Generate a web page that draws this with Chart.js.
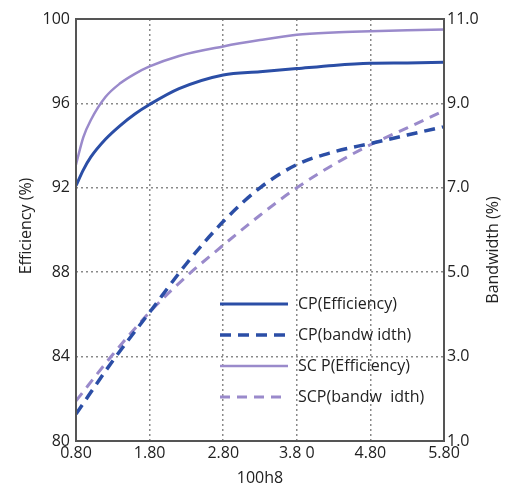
<!DOCTYPE html>
<html>
<head>
<meta charset="utf-8">
<script src="https://cdn.jsdelivr.net/npm/chart.js@4"></script>
<style>
  html, body { margin: 0; padding: 0; background: #fff; }
  #wrap { width: 512px; height: 489px; }
</style>
</head>
<body>
<div id="wrap"><canvas id="effChart" width="512" height="489"></canvas></div>
<script>
// x positions (100h8) for the efficiency curves
const effX = [0.8, 0.9, 1.0, 1.2, 1.4, 1.6, 1.8, 2.2, 2.8, 3.3, 3.8, 4.3, 4.8, 5.3, 5.8];
const cpEff = [92.1, 92.85, 93.45, 94.3, 94.95, 95.5, 95.95, 96.7, 97.35, 97.5, 97.65, 97.8, 97.9, 97.92, 97.95];
const scpEff = [93.1, 94.4, 95.2, 96.3, 96.95, 97.4, 97.75, 98.25, 98.7, 99.0, 99.25, 99.36, 99.42, 99.47, 99.5];

// x positions for the bandwidth curves
const bwX = [0.8, 1.3, 1.8, 2.3, 2.8, 3.3, 3.8, 4.3, 4.8, 5.3, 5.8];
const cpBw = [1.64, 2.9, 4.05, 5.2, 6.2, 7.0, 7.55, 7.85, 8.05, 8.25, 8.45];
const scpBw = [1.95, 3.05, 4.05, 4.9, 5.64, 6.35, 7.0, 7.55, 8.02, 8.42, 8.83];

// tick values and labels
const xTicks = [0.8, 1.8, 2.8, 3.8, 4.8, 5.8];
const xTickLabels = ['0.80', '1.80', '2.80', '3.8 0', '4.80', '5.80'];
const effTicks = [80, 84, 88, 92, 96, 100];
const bwTicks = [1, 3, 5, 7, 9, 11];

const legendLabels = ['CP(Efficiency)', 'CP(bandw idth)', 'SC P(Efficiency)', 'SCP(bandw  idth)'];

const BLUE = '#2b4ea6';
const LAV = '#9a8acb';
const FONT = '"Open Sans", "Noto Sans", sans-serif';

function toPoints(xs, ys) {
    return xs.map((x, i) => ({ x: x, y: ys[i] }));
}

// frame, axis titles and in-plot legend
const decorPlugin = {
    id: 'decor',
    afterDraw(chart) {
        const c = chart.ctx;
        const a = chart.chartArea;
        c.save();

        // frame
        c.strokeStyle = '#555';
        c.lineWidth = 2;
        c.setLineDash([]);
        c.strokeRect(a.left, a.top, a.right - a.left, a.bottom - a.top);

        // axis titles
        c.fillStyle = '#222';
        c.font = '500 16px ' + FONT;
        c.textAlign = 'center';
        c.textBaseline = 'middle';
        c.fillText('100h8', (a.left + a.right) / 2, 478);

        c.save();
        c.translate(26, (a.top + a.bottom) / 2 - 4);
        c.rotate(-Math.PI / 2);
        c.fillText('Efficiency (%)', 0, 0);
        c.restore();

        c.save();
        c.translate(493, (a.top + a.bottom) / 2 + 20);
        c.rotate(-Math.PI / 2);
        c.fillText('Bandwidth (%)', 0, 0);
        c.restore();

        // legend
        const x0 = 220, x1 = 288, tx = 298;
        const rows = [304, 335, 366, 397];
        c.textAlign = 'left';
        chart.data.datasets.forEach((ds, i) => {
            const y = rows[i];
            c.strokeStyle = ds.borderColor;
            c.lineWidth = ds.borderWidth;
            c.setLineDash(ds.borderDash || []);
            c.beginPath();
            c.moveTo(x0, y);
            c.lineTo(x1, y);
            c.stroke();
            c.fillStyle = '#222';
            c.fillText(legendLabels[i], tx, y);
        });
        c.restore();
    }
};

const ctx = document.getElementById('effChart').getContext('2d');
const tickFont = { family: FONT, size: 16, weight: '500' };

const chart = new Chart(ctx, {
    type: 'line',
    data: {
        datasets: [{
            data: toPoints(effX, cpEff),
            borderColor: BLUE,
            borderWidth: 3,
            yAxisID: 'yEff'
        }, {
            data: toPoints(bwX, cpBw),
            borderColor: BLUE,
            borderWidth: 3.5,
            borderDash: [11, 7],
            yAxisID: 'yBw'
        }, {
            data: toPoints(effX, scpEff),
            borderColor: LAV,
            borderWidth: 2.5,
            yAxisID: 'yEff'
        }, {
            data: toPoints(bwX, scpBw),
            borderColor: LAV,
            borderWidth: 3,
            borderDash: [10, 7],
            yAxisID: 'yBw'
        }]
    },
    options: {
        responsive: false,
        animation: false,
        layout: { padding: { top: 19, left: 0, right: 0, bottom: 0 } },
        elements: {
            point: { radius: 0 },
            line: { cubicInterpolationMode: 'monotone', fill: false }
        },
        plugins: {
            legend: { display: false },
            tooltip: { enabled: false }
        },
        scales: {
            x: {
                type: 'linear',
                min: 0.8,
                max: 5.8,
                afterBuildTicks: (s) => { s.ticks = xTicks.map(v => ({ value: v })); },
                afterFit: (s) => { s.height = 48; },
                ticks: {
                    padding: 3,
                    color: '#222',
                    font: tickFont,
                    maxRotation: 0,
                    callback: (v, i) => xTickLabels[i]
                },
                grid: {
                    drawTicks: false,
                    lineWidth: 1.5,
                    color: (c) => (c.index === 0 || c.index === xTicks.length - 1) ? 'rgba(0,0,0,0)' : '#8a8a8a'
                },
                border: { display: false, dash: [2, 3] }
            },
            yEff: {
                position: 'left',
                min: 80,
                max: 100,
                afterBuildTicks: (s) => { s.ticks = effTicks.map(v => ({ value: v })); },
                afterFit: (s) => { s.width = 76; },
                ticks: {
                    padding: 6,
                    color: '#222',
                    font: tickFont,
                    callback: (v) => String(v)
                },
                grid: {
                    drawTicks: false,
                    lineWidth: 1.5,
                    color: (c) => (c.index === 0 || c.index === effTicks.length - 1) ? 'rgba(0,0,0,0)' : '#8a8a8a'
                },
                border: { display: false, dash: [2, 3] }
            },
            yBw: {
                position: 'right',
                min: 1,
                max: 11,
                afterBuildTicks: (s) => { s.ticks = bwTicks.map(v => ({ value: v })); },
                afterFit: (s) => { s.width = 68; },
                ticks: {
                    padding: 3,
                    color: '#222',
                    font: tickFont,
                    callback: (v) => v.toFixed(1)
                },
                grid: { drawOnChartArea: false, drawTicks: false },
                border: { display: false }
            }
        }
    },
    plugins: [decorPlugin]
});
</script>
</body>
</html>
